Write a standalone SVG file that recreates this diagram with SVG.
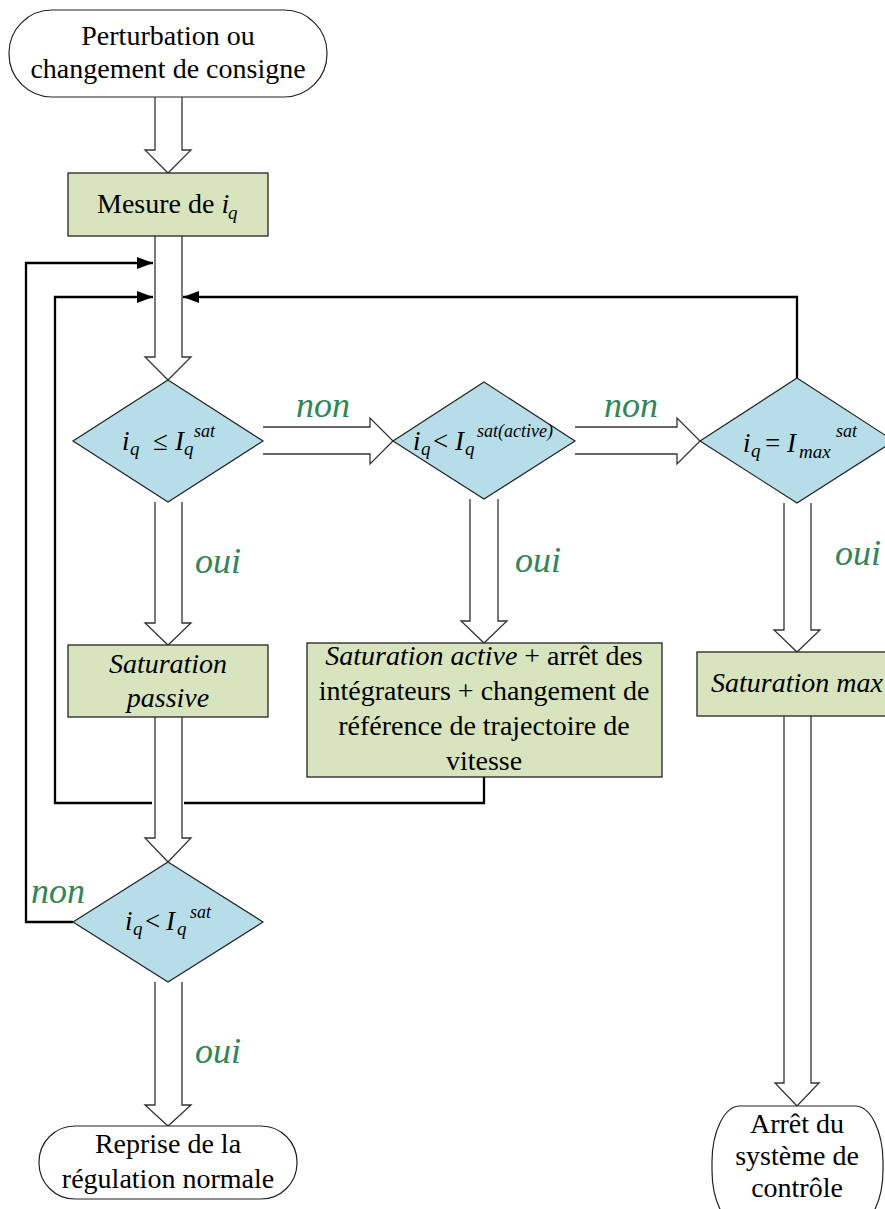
<svg xmlns="http://www.w3.org/2000/svg" width="885" height="1209" viewBox="0 0 885 1209">
<style>
.term{fill:#ffffff;stroke:#222;stroke-width:1.2}
.box{fill:#d7e4bd;stroke:#222;stroke-width:1.3}
.dia{fill:#b7dde8;stroke:#222;stroke-width:1.2}
.blk{fill:#ffffff;stroke:#333;stroke-width:1.3}
.fb{fill:none;stroke:#000;stroke-width:2.3}
text{font-family:"Liberation Serif",Tinos,"Times New Roman",Times,"DejaVu Serif","Noto Serif",serif}
.t{font-size:28px;fill:#000;text-anchor:middle}
.it{font-style:italic}
.m{font-size:27px;font-style:italic;fill:#000}
.mo{font-size:27px;fill:#000}
.sb{font-size:19px;font-style:italic;fill:#000}
.sp{font-size:18px;font-style:italic;fill:#000}
.lbl{font-size:36px;font-style:italic;fill:#31855a;text-anchor:middle}
</style>
<defs>
<marker id="ah" markerUnits="userSpaceOnUse" markerWidth="16" markerHeight="12" refX="16" refY="6" orient="auto">
<path d="M0,0 L16,6 L0,12 z" fill="#000"/>
</marker>
</defs>
<g id="connectors">
<path class="blk" d="M155,97 V150 H145 L168,173 L191,150 H182 V97"/>
<path class="blk" d="M155,236 V357 H145 L168,380 L191,357 H182 V236"/>
<path class="blk" d="M155,502 V623 H145 L168,645 L191,623 H182 V502"/>
<path class="blk" d="M155,717 V838 H145 L168,862 L191,838 H182 V717"/>
<path class="blk" d="M155,982 V1105 H145 L168,1126 L191,1105 H182 V982"/>
<path class="blk" d="M263,427 H370 V418 L393,441 L370,464 V454 H263"/>
<path class="blk" d="M575,427 H677 V418 L700,441 L677,464 V454 H575"/>
<path class="blk" d="M470,499 V621 H461 L484,643 L507,621 H498 V499"/>
<path class="blk" d="M784,503 V630 H774 L797,652 L820,630 H811 V503"/>
<path class="blk" d="M784,716 V1083 H775 L797,1106 L819,1083 H811 V716"/>
<path class="fb" d="M73,922 H26 V263 H153" marker-end="url(#ah)"/>
<path class="fb" d="M484,777 V803 H184 M152,803 H55 V297 H153" marker-end="url(#ah)"/>
<path class="fb" d="M797,378 V297 H183" marker-end="url(#ah)"/>
<text class="lbl" x="323" y="417">non</text>
<text class="lbl" x="631" y="417">non</text>
<text class="lbl" x="58" y="903">non</text>
<text class="lbl" x="218" y="573">oui</text>
<text class="lbl" x="538" y="572">oui</text>
<text class="lbl" x="858" y="565">oui</text>
<text class="lbl" x="218" y="1063">oui</text>
</g>
<g id="start">
<rect class="term" x="9" y="10" width="318" height="87" rx="43" ry="43"/>
<text class="t" x="168" y="45">Perturbation ou</text>
<text class="t" x="168" y="78">changement de consigne</text>
</g>
<g id="mesure">
<rect class="box" x="68" y="173" width="200" height="63"/>
<text class="t" x="97" y="213" style="text-anchor:start">Mesure de <tspan class="it">i</tspan></text>
<text class="sb" x="228" y="219">q</text>
</g>
<g id="decision1">
<polygon class="dia" points="168,380 263,441 168,502 73,441"/>
<text class="m" x="122" y="450">i</text>
<text class="sb" x="130" y="455">q</text>
<text class="mo" x="153" y="450">≤</text>
<text class="m" x="175" y="450">I</text>
<text class="sb" x="184" y="455">q</text>
<text class="sp" x="194" y="437">sat</text>
</g>
<g id="decision2">
<polygon class="dia" points="484,382 575,441 484,499 393,441"/>
<text class="m" x="413" y="450">i</text>
<text class="sb" x="421" y="455">q</text>
<text class="mo" x="433" y="450">&lt;</text>
<text class="m" x="455" y="450">I</text>
<text class="sb" x="465" y="455">q</text>
<text class="sp" x="477" y="437">sat(active)</text>
</g>
<g id="decision3">
<polygon class="dia" points="797,378 894,441 797,503 700,441"/>
<text class="m" x="743" y="452">i</text>
<text class="sb" x="751" y="457">q</text>
<text class="mo" x="765" y="452">=</text>
<text class="m" x="787" y="452">I</text>
<text class="sb" x="799" y="458">max</text>
<text class="sp" x="836" y="437">sat</text>
</g>
<g id="decision4">
<polygon class="dia" points="168,862 263,922 168,982 73,922"/>
<text class="m" x="125" y="930">i</text>
<text class="sb" x="133" y="935">q</text>
<text class="mo" x="145" y="930">&lt;</text>
<text class="m" x="166" y="930">I</text>
<text class="sb" x="177" y="935">q</text>
<text class="sp" x="190" y="918">sat</text>
</g>
<g id="sat-passive">
<rect class="box" x="68" y="645" width="200" height="72"/>
<text class="t it" x="168" y="673">Saturation</text>
<text class="t it" x="168" y="707">passive</text>
</g>
<g id="sat-active">
<rect class="box" x="307" y="643" width="355" height="134"/>
<text class="t" x="484" y="665"><tspan class="it">Saturation active</tspan> + arrêt des</text>
<text class="t" x="484" y="700">intégrateurs + changement de</text>
<text class="t" x="484" y="735">référence de trajectoire de</text>
<text class="t" x="484" y="770">vitesse</text>
</g>
<g id="sat-max">
<rect class="box" x="697" y="652" width="200" height="64"/>
<text class="t it" x="797" y="692">Saturation max</text>
</g>
<g id="end-normal">
<rect class="term" x="39" y="1126" width="258" height="73" rx="36" ry="36"/>
<text class="t" x="168" y="1153">Reprise de la</text>
<text class="t" x="168" y="1188">régulation normale</text>
</g>
<g id="end-stop">
<rect class="term" x="712" y="1106" width="171" height="120" rx="28" ry="56"/>
<text class="t" x="797" y="1133">Arrêt du</text>
<text class="t" x="797" y="1165">système de</text>
<text class="t" x="797" y="1197">contrôle</text>
</g>
</svg>
